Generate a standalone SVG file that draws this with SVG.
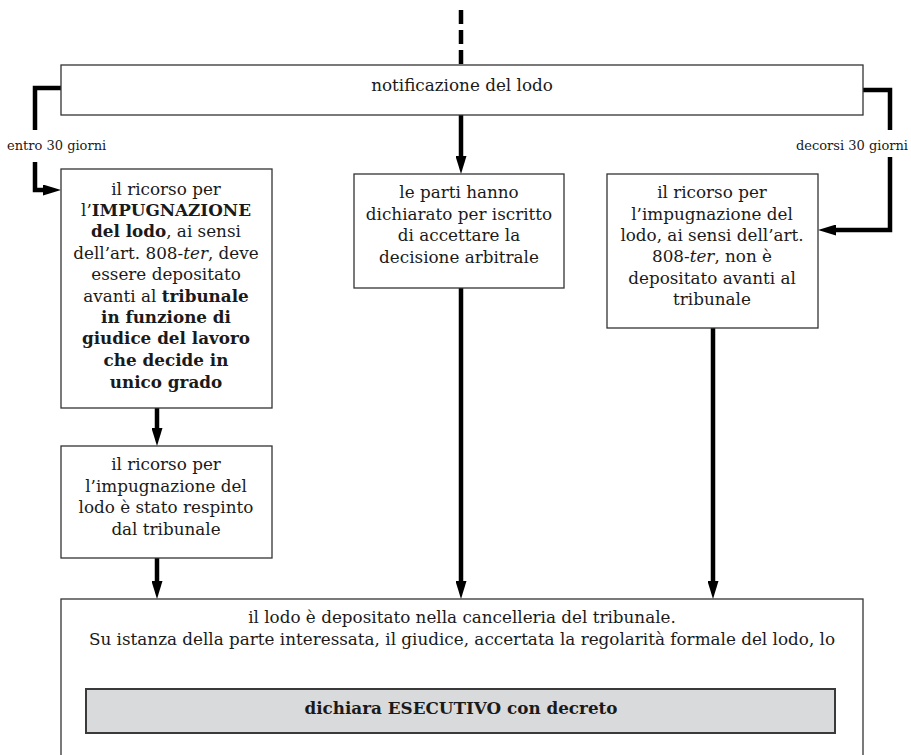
<svg xmlns="http://www.w3.org/2000/svg" width="911" height="755" viewBox="0 0 911 755">
<style>
.box{fill:#fff;stroke:#333;stroke-width:1.3}
.gray{fill:#d9dadc;stroke:#3a3a3a;stroke-width:2}
.t{font-family:"DejaVu Serif","Liberation Serif",serif;font-size:16.8px;fill:#1a1a1a;text-anchor:middle}
.lbl{font-family:"DejaVu Serif","Liberation Serif",serif;font-size:13px;fill:#1a1a1a}
.b{font-weight:bold}
.i{font-style:italic}
.c{fill:none;stroke:#000;stroke-width:4.5}
</style>
<defs>
<marker id="ah" viewBox="0 0 18 11" refX="8" refY="5.5" markerWidth="18" markerHeight="11" markerUnits="userSpaceOnUse" orient="auto">
<path d="M0,0 L18,5.5 L0,11 z" fill="#000"/>
</marker>
</defs>
<g id="connectors">
<path class="c" d="M461,10 V65" stroke-dasharray="14 6"/>
<path class="c" d="M61,88 H35 V130"/>
<path class="c" d="M35,162 V190 H51" marker-end="url(#ah)"/>
<path class="c" d="M863,90 H890 V130"/>
<path class="c" d="M890,157 V230 H828" marker-end="url(#ah)"/>
<path class="c" d="M461,115 V164" marker-end="url(#ah)"/>
<path class="c" d="M157,408 V436" marker-end="url(#ah)"/>
<path class="c" d="M157,558 V589" marker-end="url(#ah)"/>
<path class="c" d="M461,288 V589" marker-end="url(#ah)"/>
<path class="c" d="M713,328 V589" marker-end="url(#ah)"/>
<path class="c" d="M461,652 V679" marker-end="url(#ah)"/>
<text class="lbl" x="7" y="150">entro 30 giorni</text>
<text class="lbl" x="908" y="150" style="text-anchor:end">decorsi 30 giorni</text>
</g>
<g id="notifica">
<rect class="box" x="61" y="65" width="802" height="50"/>
<text class="t" x="462" y="91">notificazione del lodo</text>
</g>
<g id="impugnazione">
<rect class="box" x="61" y="169" width="211" height="239"/>
<text class="t" x="166" y="195">il ricorso per</text>
<text class="t" x="166" y="216">l’<tspan class="b">IMPUGNAZIONE</tspan></text>
<text class="t" x="166" y="237"><tspan class="b">del lodo</tspan>, ai sensi</text>
<text class="t" x="166" y="259">dell’art. 808-<tspan class="i">ter</tspan>, deve</text>
<text class="t" x="166" y="280">essere depositato</text>
<text class="t" x="166" y="302">avanti al <tspan class="b">tribunale</tspan></text>
<text class="t b" x="166" y="323">in funzione di</text>
<text class="t b" x="166" y="344">giudice del lavoro</text>
<text class="t b" x="166" y="366">che decide in</text>
<text class="t b" x="166" y="388">unico grado</text>
</g>
<g id="accettazione">
<rect class="box" x="354" y="174" width="210" height="114"/>
<text class="t" x="459" y="198">le parti hanno</text>
<text class="t" x="459" y="219.5">dichiarato per iscritto</text>
<text class="t" x="459" y="241">di accettare la</text>
<text class="t" x="459" y="262.5">decisione arbitrale</text>
</g>
<g id="non-depositato">
<rect class="box" x="607" y="174" width="211" height="154"/>
<text class="t" x="712" y="198">il ricorso per</text>
<text class="t" x="712" y="220">l’impugnazione del</text>
<text class="t" x="712" y="241">lodo, ai sensi dell’art.</text>
<text class="t" x="712" y="262">808-<tspan class="i">ter</tspan>, non è</text>
<text class="t" x="712" y="284">depositato avanti al</text>
<text class="t" x="712" y="305">tribunale</text>
</g>
<g id="respinto">
<rect class="box" x="61" y="446" width="211" height="112"/>
<text class="t" x="166" y="470">il ricorso per</text>
<text class="t" x="166" y="492">l’impugnazione del</text>
<text class="t" x="166" y="513">lodo è stato respinto</text>
<text class="t" x="166" y="535">dal tribunale</text>
</g>
<g id="deposito">
<rect class="box" x="61" y="599" width="802" height="170"/>
<text class="t" x="462" y="623">il lodo è depositato nella cancelleria del tribunale.</text>
<text class="t" x="462" y="645">Su istanza della parte interessata, il giudice, accertata la regolarità formale del lodo, lo</text>
</g>
<g id="esecutivo">
<rect class="gray" x="86" y="689" width="749" height="44"/>
<text class="t b" x="461" y="714">dichiara ESECUTIVO con decreto</text>
</g>
</svg>
